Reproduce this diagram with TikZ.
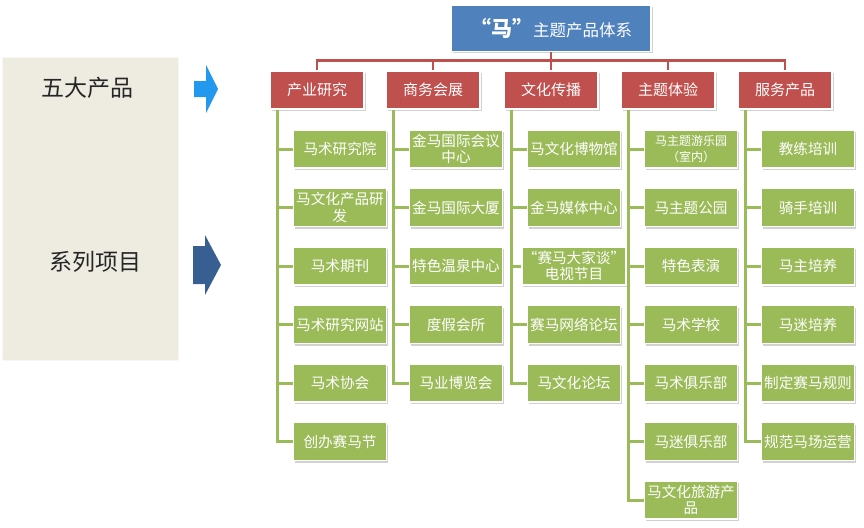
\documentclass[tikz,border=0pt]{standalone}
\usepackage{fontspec}
\setmainfont{Noto Sans CJK SC}
\usetikzlibrary{shadows}
\definecolor{topblue}{HTML}{4F81BD}
\definecolor{catred}{HTML}{C0504D}
\definecolor{itemgreen}{HTML}{9BBB59}
\definecolor{panelbg}{HTML}{EEECE1}
\definecolor{arrowlight}{HTML}{2299EE}
\definecolor{arrowdark}{HTML}{385F92}
\begin{document}
\begin{tikzpicture}[x=1pt,y=-1pt,
  boxbase/.style={draw=white, line width=1.8pt, text=white, align=center, inner sep=1pt,
    drop shadow={shadow xshift=1.5pt, shadow yshift=-2pt, opacity=0.3, fill=black!60}},
  topbox/.style={boxbase, fill=topblue, minimum width=200pt, minimum height=46pt, font=\fontsize{16.5}{18}\selectfont},
  catbox/.style={boxbase, fill=catred, minimum width=94pt, minimum height=38pt, font=\fontsize{15}{17}\selectfont},
  itembox/.style={boxbase, fill=itemgreen, minimum width=93pt, minimum height=38pt, font=\fontsize{14.6}{16.5}\selectfont},
  smallitem/.style={itembox, font=\fontsize{12}{16}\selectfont},
  panel/.style={fill=panelbg, draw=white!60!panelbg, line width=0.8pt, minimum width=176pt, minimum height=303pt, inner sep=0pt},
  paneltext/.style={font=\fontsize{23}{26}\selectfont, text=black!85},
  redline/.style={draw=catred, line width=2.8pt},
  greenline/.style={draw=itemgreen, line width=3pt},
]
\useasboundingbox (0,0) rectangle (864,527);

% left panel
\node[panel] (panel) at (90,208.5) {};
\node[paneltext] (t1) at (87,88) {五大产品};
\node[paneltext] (t2) at (95,262) {系列项目};

% arrows
\fill[arrowlight] (194,81) -- (206,81) -- (206,65) -- (218,89) -- (206,113) -- (206,97) -- (194,97) -- cycle;
\fill[arrowdark] (193,246) -- (205,246) -- (205,235) -- (221,265) -- (205,295) -- (205,284) -- (193,284) -- cycle;

% top
\node[topbox] (top) at (551,28.5) {{\fontsize{21}{22}\selectfont\bfseries “马”}主题产品体系};

% categories
\node[catbox] (r1) at (317,90) {产业研究};
\node[catbox] (r2) at (433,90) {商务会展};
\node[catbox] (r3) at (551,90) {文化传播};
\node[catbox] (r4) at (668,90) {主题体验};
\node[catbox] (r5) at (785,90) {服务产品};

% column 1
\node[itembox] (c11) at (340,149) {马术研究院};
\node[itembox] (c12) at (340,207.5) {马文化产品研\\发};
\node[itembox] (c13) at (340,266) {马术期刊};
\node[itembox] (c14) at (340,324.5) {马术研究网站};
\node[itembox] (c15) at (340,383) {马术协会};
\node[itembox] (c16) at (340,441.5) {创办赛马节};
% column 2
\node[itembox] (c21) at (456,149) {金马国际会议\\中心};
\node[itembox] (c22) at (456,207.5) {金马国际大厦};
\node[itembox] (c23) at (456,266) {特色温泉中心};
\node[itembox] (c24) at (456,324.5) {度假会所};
\node[itembox] (c25) at (456,383) {马业博览会};
% column 3
\node[itembox] (c31) at (574,149) {马文化博物馆};
\node[itembox] (c32) at (574,207.5) {金马媒体中心};
\node[itembox] (c33) at (574,266) {“赛马大家谈”\\电视节目};
\node[itembox] (c34) at (574,324.5) {赛马网络论坛};
\node[itembox] (c35) at (574,383) {马文化论坛};
% column 4
\node[smallitem] (c41) at (691,149) {马主题游乐园\\（室内）};
\node[itembox] (c42) at (691,207.5) {马主题公园};
\node[itembox] (c43) at (691,266) {特色表演};
\node[itembox] (c44) at (691,324.5) {马术学校};
\node[itembox] (c45) at (691,383) {马术俱乐部};
\node[itembox] (c46) at (691,441.5) {马迷俱乐部};
\node[itembox] (c47) at (691,500) {马文化旅游产\\品};
% column 5
\node[itembox] (c51) at (808,149) {教练培训};
\node[itembox] (c52) at (808,207.5) {骑手培训};
\node[itembox] (c53) at (808,266) {马主培养};
\node[itembox] (c54) at (808,324.5) {马迷培养};
\node[itembox] (c55) at (808,383) {制定赛马规则};
\node[itembox] (c56) at (808,441.5) {规范马场运营};

% red connectors
\foreach \r in {r1,r2,r3,r4,r5}
  \draw[redline] (top.south) -- ++(0,8) -| (\r.north);

% green connectors
\foreach \k in {1,...,6} \draw[greenline] ([xshift=8pt]r1.south west) |- (c1\k.west);
\foreach \k in {1,...,5} \draw[greenline] ([xshift=8pt]r2.south west) |- (c2\k.west);
\foreach \k in {1,...,5} \draw[greenline] ([xshift=8pt]r3.south west) |- (c3\k.west);
\foreach \k in {1,...,7} \draw[greenline] ([xshift=8pt]r4.south west) |- (c4\k.west);
\foreach \k in {1,...,6} \draw[greenline] ([xshift=8pt]r5.south west) |- (c5\k.west);
\end{tikzpicture}
\end{document}
